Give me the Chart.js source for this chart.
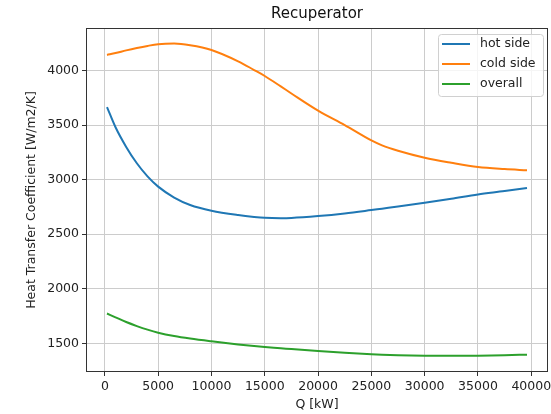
<!DOCTYPE html>
<html lang="en">
<head>
  <meta charset="UTF-8">
  <title>Recuperator</title>
  <script src="https://cdn.jsdelivr.net/npm/chart.js"></script>
  <style>
    body { margin: 0; background: #fff; }
    #wrap { width: 551px; height: 414px; }
  </style>
</head>
<body>
  <div id="wrap"><canvas id="chart" width="551" height="414"></canvas></div>

  <script>
    // heat duty [kW]
    const q = [200, 1000, 2000, 3000, 4000, 5000, 6500, 8000, 10000, 12500, 14000, 15000,
               16500, 17500, 20000, 22500, 25000, 26000, 27500, 30000, 32500, 35000, 37500, 39600];

    // heat transfer coefficient [W/m2/K]
    const hotSide  = [3665, 3480, 3300, 3150, 3030, 2936, 2836, 2768, 2715, 2675, 2658, 2650,
                      2647, 2649, 2666, 2690, 2721, 2734, 2753, 2788, 2825, 2864, 2895, 2924];
    const coldSide = [4143, 4160, 4185, 4207, 4226, 4241, 4247, 4232, 4189, 4085, 4005, 3950,
                      3855, 3790, 3633, 3500, 3359, 3314, 3265, 3201, 3155, 3116, 3097, 3086];
    const overall  = [1773, 1738, 1695, 1658, 1625, 1597, 1566, 1543, 1518, 1490, 1475, 1466,
                      1455, 1447, 1429, 1413, 1399, 1395, 1391, 1387, 1386, 1387, 1391, 1396];

    const xTicks = [0, 5000, 10000, 15000, 20000, 25000, 30000, 35000, 40000];
    const yTicks = [1500, 2000, 2500, 3000, 3500, 4000];

    const font = "'DejaVu Sans', sans-serif";
    const fs = 12.5;
    const pts = ys => ys.map((y, i) => ({ x: q[i], y }));

    // title, box around the axes, legend inside the top right corner
    const decor = {
      id: 'decor',
      afterDraw(chart) {
        const { ctx, chartArea: a } = chart;
        ctx.save();
        ctx.strokeStyle = '#333';
        ctx.lineWidth = 1;
        ctx.strokeRect(a.left + 0.5, a.top + 0.5, a.right - a.left - 1, a.bottom - a.top - 1);

        ctx.fillStyle = '#111';
        ctx.font = '15px ' + font;
        ctx.textAlign = 'center';
        ctx.textBaseline = 'middle';
        ctx.fillText('Recuperator', (a.left + a.right) / 2, 14);

        const bx = 438, by = 34, bw = 105, bh = 62;
        ctx.beginPath();
        ctx.roundRect(bx + 0.5, by + 0.5, bw, bh, 3);
        ctx.fillStyle = 'rgba(255,255,255,0.8)';
        ctx.fill();
        ctx.strokeStyle = '#d0d0d0';
        ctx.stroke();

        ctx.font = fs + 'px ' + font;
        ctx.textAlign = 'left';
        chart.data.datasets.forEach((ds, i) => {
          const y = 44 + i * 20;
          ctx.strokeStyle = ds.borderColor;
          ctx.lineWidth = 2;
          ctx.beginPath();
          ctx.moveTo(442, y);
          ctx.lineTo(470, y);
          ctx.stroke();
          ctx.fillStyle = '#222';
          ctx.fillText(ds.label, 480, y);
        });
        ctx.restore();
      }
    };

    new Chart(document.getElementById('chart'), {
      type: 'scatter',
      data: {
        datasets: [
          { label: 'hot side',  data: pts(hotSide),  borderColor: '#1f77b4' },
          { label: 'cold side', data: pts(coldSide), borderColor: '#ff7f0e' },
          { label: 'overall',   data: pts(overall),  borderColor: '#2ca02c' }
        ].map(d => Object.assign(d, {
          showLine: true, borderWidth: 2, pointRadius: 0, tension: 0.4, cubicInterpolationMode: 'monotone'
        }))
      },
      options: {
        responsive: false,
        animation: false,
        layout: { padding: { left: 0, right: 3, top: 28, bottom: 0 } },
        plugins: { legend: { display: false }, tooltip: { enabled: false } },
        scales: {
          x: {
            type: 'linear', min: -1770, max: 41570,
            afterBuildTicks: s => { s.ticks = xTicks.map(v => ({ value: v })); },
            afterFit: s => { s.height = 42; s.paddingLeft = 0; s.paddingRight = 0; },
            grid: { color: '#cccccc', tickColor: '#333', tickLength: 4 },
            border: { display: false },
            ticks: { color: '#222', font: { family: font, size: fs }, padding: 3, maxRotation: 0,
                     callback: v => String(v) },
            title: { display: true, text: 'Q [kW]', color: '#222',
                     font: { family: font, size: fs }, padding: { top: 0, bottom: 2 } }
          },
          y: {
            type: 'linear', min: 1237, max: 4390,
            afterBuildTicks: s => { s.ticks = yTicks.map(v => ({ value: v })); },
            afterFit: s => { s.width = 86; s.paddingTop = 0; s.paddingBottom = 0; },
            grid: { color: '#cccccc', tickColor: '#333', tickLength: 4 },
            border: { display: false },
            ticks: { color: '#222', font: { family: font, size: fs }, padding: 3,
                     callback: v => String(v) },
            title: { display: true, text: 'Heat Transfer Coefficient [W/m2/K]', color: '#222',
                     font: { family: font, size: fs }, padding: { top: 24, bottom: 0 } }
          }
        }
      },
      plugins: [decor]
    });
  </script>
</body>
</html>
